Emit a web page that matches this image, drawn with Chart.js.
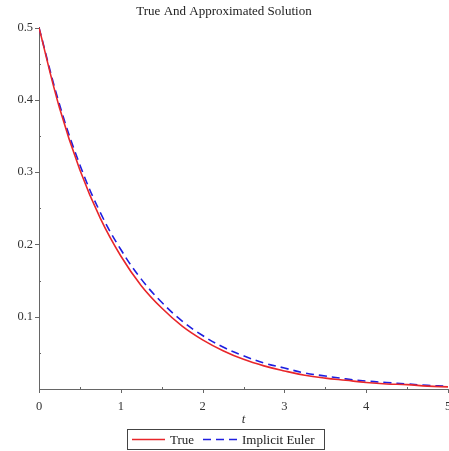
<!DOCTYPE html>
<html>
<head>
<meta charset="utf-8">
<script src="https://cdn.jsdelivr.net/npm/chart.js@4/dist/chart.umd.min.js"></script>
<style>
  html, body { margin: 0; padding: 0; background: #fff; }
  #wrap { width: 449px; height: 451px; }
</style>
</head>
<body>
<div id="wrap"><canvas id="solChart" width="449" height="451"></canvas></div>
<script>
// t values (step 0.25)
const tValues = [0, 0.25, 0.5, 0.75, 1, 1.25, 1.5, 1.75, 2, 2.25, 2.5, 2.75, 3, 3.25, 3.5, 3.75, 4, 4.25, 4.5, 4.75, 5];
// red solid curve
const trueValues = [0.5, 0.389, 0.303, 0.236, 0.184, 0.143, 0.112, 0.087, 0.068, 0.053, 0.041, 0.032, 0.025, 0.019, 0.015, 0.012, 0.009, 0.007, 0.006, 0.004, 0.003];
// blue dashed curve
const eulerValues = [0.5, 0.394, 0.310, 0.244, 0.193, 0.152, 0.120, 0.094, 0.074, 0.058, 0.046, 0.036, 0.029, 0.022, 0.018, 0.014, 0.011, 0.009, 0.007, 0.005, 0.004];
const xTicks = [0, 1, 2, 3, 4, 5];
const yTicks = [0.1, 0.2, 0.3, 0.4, 0.5];

const serif = '"Liberation Serif", "DejaVu Serif", serif';
const axisColor = '#666';

// ticks, axis title and boxed legend drawn by hand
const extras = {
    id: 'extras',
    afterDraw(chart) {
        const ctx = chart.ctx;
        const xs = chart.scales.x, ys = chart.scales.y;
        const area = chart.chartArea;
        ctx.save();
        ctx.strokeStyle = axisColor;
        ctx.lineWidth = 1;
        // x ticks (major + minor)
        for (let v = 0; v <= 5.001; v += 0.5) {
            const px = Math.round(xs.getPixelForValue(v)) + 0.5;
            const major = Math.abs(v - Math.round(v)) < 0.01;
            ctx.beginPath();
            ctx.moveTo(px, area.bottom - (major ? 0 : 2));
            ctx.lineTo(px, area.bottom + (major ? 4 : 0));
            ctx.stroke();
        }
        // y ticks
        for (let v = 0.05; v <= 0.5001; v += 0.05) {
            const py = Math.round(ys.getPixelForValue(v)) + 0.5;
            const major = Math.round(v * 100) % 10 === 0;
            ctx.beginPath();
            ctx.moveTo(area.left - (major ? 4 : 0), py);
            ctx.lineTo(area.left + (major ? 0 : 2), py);
            ctx.stroke();
        }
        // axis title
        ctx.fillStyle = '#333';
        ctx.font = 'italic 13px ' + serif;
        ctx.textAlign = 'center';
        ctx.textBaseline = 'middle';
        ctx.fillText('t', xs.getPixelForValue(2.5), 420);

        // legend
        const bx = 127.5, by = 429.5, bw = 197, bh = 20;
        ctx.strokeStyle = '#444';
        ctx.strokeRect(bx, by, bw, bh);
        const ly = by + bh / 2;
        const ds = chart.data.datasets;
        ctx.font = '13px ' + serif;
        ctx.textAlign = 'left';
        ctx.fillStyle = '#222';
        // True
        ctx.lineWidth = 1.6;
        ctx.strokeStyle = ds[0].borderColor;
        ctx.beginPath(); ctx.moveTo(132, ly); ctx.lineTo(165, ly); ctx.stroke();
        ctx.fillText(ds[0].label, 170, ly + 1);
        // Implicit Euler
        ctx.strokeStyle = ds[1].borderColor;
        ctx.setLineDash(ds[1].borderDash);
        ctx.beginPath(); ctx.moveTo(203, ly); ctx.lineTo(238, ly); ctx.stroke();
        ctx.setLineDash([]);
        ctx.fillText(ds[1].label, 242, ly + 1);
        ctx.restore();
    }
};

const ctx = document.getElementById('solChart').getContext('2d');
new Chart(ctx, {
    type: 'line',
    data: {
        datasets: [{
            label: 'True',
            data: tValues.map((t, i) => ({ x: t, y: trueValues[i] })),
            borderColor: '#e8262a',
            borderWidth: 1.6,
            pointRadius: 0,
            fill: false,
            tension: 0.4
        }, {
            label: 'Implicit Euler',
            data: tValues.map((t, i) => ({ x: t, y: eulerValues[i] })),
            borderColor: '#1f1fe0',
            borderWidth: 1.6,
            borderDash: [8, 5],
            pointRadius: 0,
            fill: false,
            tension: 0.4
        }]
    },
    options: {
        responsive: false,
        animation: false,
        layout: { padding: { top: 0, right: 1, bottom: 0, left: 0 } },
        plugins: {
            legend: { display: false },
            tooltip: { enabled: false },
            title: {
                display: true,
                text: 'True And Approximated Solution',
                color: '#222',
                font: { family: serif, size: 13, weight: 'normal' },
                padding: { top: 4, bottom: 8 }
            }
        },
        scales: {
            x: {
                type: 'linear',
                min: 0,
                max: 5,
                afterBuildTicks: s => { s.ticks = xTicks.map(v => ({ value: v })); },
                afterFit: s => { s.height = 62; s.paddingRight = 0; s.paddingLeft = 0; },
                grid: { display: false, drawTicks: false },
                border: { display: true, color: axisColor, width: 1 },
                ticks: {
                    padding: 10,
                    maxRotation: 0,
                    color: '#333',
                    font: { family: serif, size: 12.5 }
                }
            },
            y: {
                min: 0,
                max: 0.5,
                afterBuildTicks: s => { s.ticks = yTicks.map(v => ({ value: v })); },
                afterFit: s => { s.width = 39; s.paddingTop = 0; s.paddingBottom = 0; },
                grid: { display: false, drawTicks: false },
                border: { display: true, color: axisColor, width: 1 },
                ticks: {
                    padding: 6,
                    color: '#333',
                    font: { family: serif, size: 12.5 },
                    callback: v => String(v)
                }
            }
        }
    },
    plugins: [extras]
});
</script>
</body>
</html>
